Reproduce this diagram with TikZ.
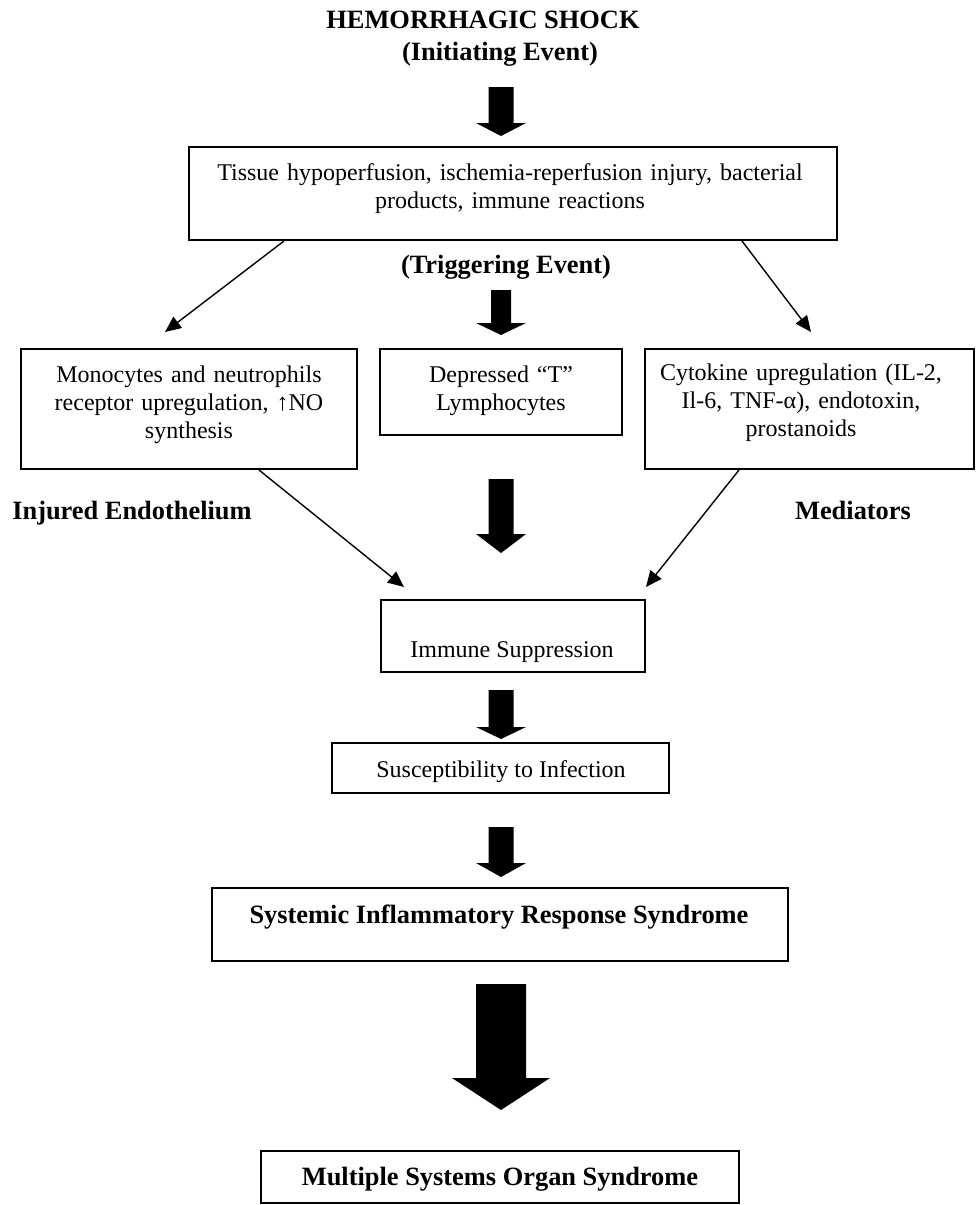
\documentclass[tikz,border=0pt]{standalone}
\usepackage{fontspec}
\setmainfont{Liberation Serif}
\usetikzlibrary{arrows.meta,calc}
\newcommand\blockarr[6]{%
  \fill[black] (#1-#5,#2) -- (#1+#5,#2) -- (#1+#5,#3) -- (#1+#6,#3) -- (#1,#4) -- (#1-#6,#3) -- (#1-#5,#3) -- cycle;}
\begin{document}
\begin{tikzpicture}[x=0.5pt,y=-0.5pt,
  box/.style={draw,line width=1pt,rectangle,inner sep=0pt},
  txt/.style={font=\fontsize{12}{14}\selectfont,inner sep=0pt,anchor=base,align=center},
  hdr/.style={font=\fontsize{13.2}{15.5}\selectfont\bfseries,inner sep=0pt,anchor=base},
  conn/.style={line width=0.7pt,-{Triangle[length=8pt,width=7pt]}}]
\useasboundingbox (0,0) rectangle (976,1205);
% boxes
\node[box,minimum width=324pt,minimum height=46.5pt] (tissue) at (513,193.5) {};
\node[box,minimum width=168pt,minimum height=60pt] (left) at (189,409) {};
\node[box,minimum width=121pt,minimum height=43pt] (mid) at (501,392) {};
\node[box,minimum width=164.5pt,minimum height=60pt] (right) at (809.5,409) {};
\node[box,minimum width=132pt,minimum height=36pt] (immune) at (513,636) {};
\node[box,minimum width=168.5pt,minimum height=25pt] (sus) at (500.5,768) {};
\node[box,minimum width=288pt,minimum height=36.5pt] (sirs) at (500,924.5) {};
\node[box,minimum width=239pt,minimum height=26pt] (msos) at (500,1177) {};
% texts
\node[hdr] (title) at (483,28) {HEMORRHAGIC SHOCK};
\node[hdr] (init) at (500,60) {(Initiating Event)};
\node[hdr] (trig) at (506,273) {(Triggering Event)};
\node[hdr] (injured) at (132,519) {Injured Endothelium};
\node[hdr] (mediators) at (853,519) {Mediators};
\node[txt,text width=300pt] (ttissue) at (510,180) {Tissue hypoperfusion, ischemia-reperfusion injury, bacterial\\products, immune reactions};
\node[txt,text width=160pt] (tleft) at (189,382) {Monocytes and neutrophils\\receptor upregulation, ↑NO\\synthesis};
\node[txt,text width=115pt] (tmid) at (501,382) {Depressed “T”\\Lymphocytes};
\node[txt,text width=155pt] (tright) at (801,380) {Cytokine upregulation (IL-2,\\Il-6, TNF-α), endotoxin,\\prostanoids};
\node[txt] (timm) at (512,657) {Immune Suppression};
\node[txt] (tsus) at (501,777) {Susceptibility to Infection};
\node[hdr] (tsirs) at (499,923) {Systemic Inflammatory Response Syndrome};
\node[hdr] (tmsos) at (500,1185) {Multiple Systems Organ Syndrome};
% thin connectors
\draw[conn] ($(tissue.south west)+(96,0)$) -- ($(left.north west)+(145,-16)$);
\draw[conn] ($(tissue.south east)+(-96,0)$) -- ($(right.north west)+(167,-16)$);
\draw[conn] ($(left.south west)+(239,0)$) -- ($(immune.north west)+(24,-12)$);
\draw[conn] ($(right.south west)+(95,0)$) -- ($(immune.north east)+(0,-12)$);
% block arrows
\blockarr{501}{87}{123}{136}{12.5}{25}
\blockarr{501}{290}{323}{335}{10}{25}
\blockarr{501}{479}{534}{553}{12.5}{25}
\blockarr{501}{690}{727}{739}{12.5}{25}
\blockarr{501}{827}{863}{877}{12.5}{25}
\blockarr{501}{984}{1078}{1110}{25}{49}
\end{tikzpicture}
\end{document}
